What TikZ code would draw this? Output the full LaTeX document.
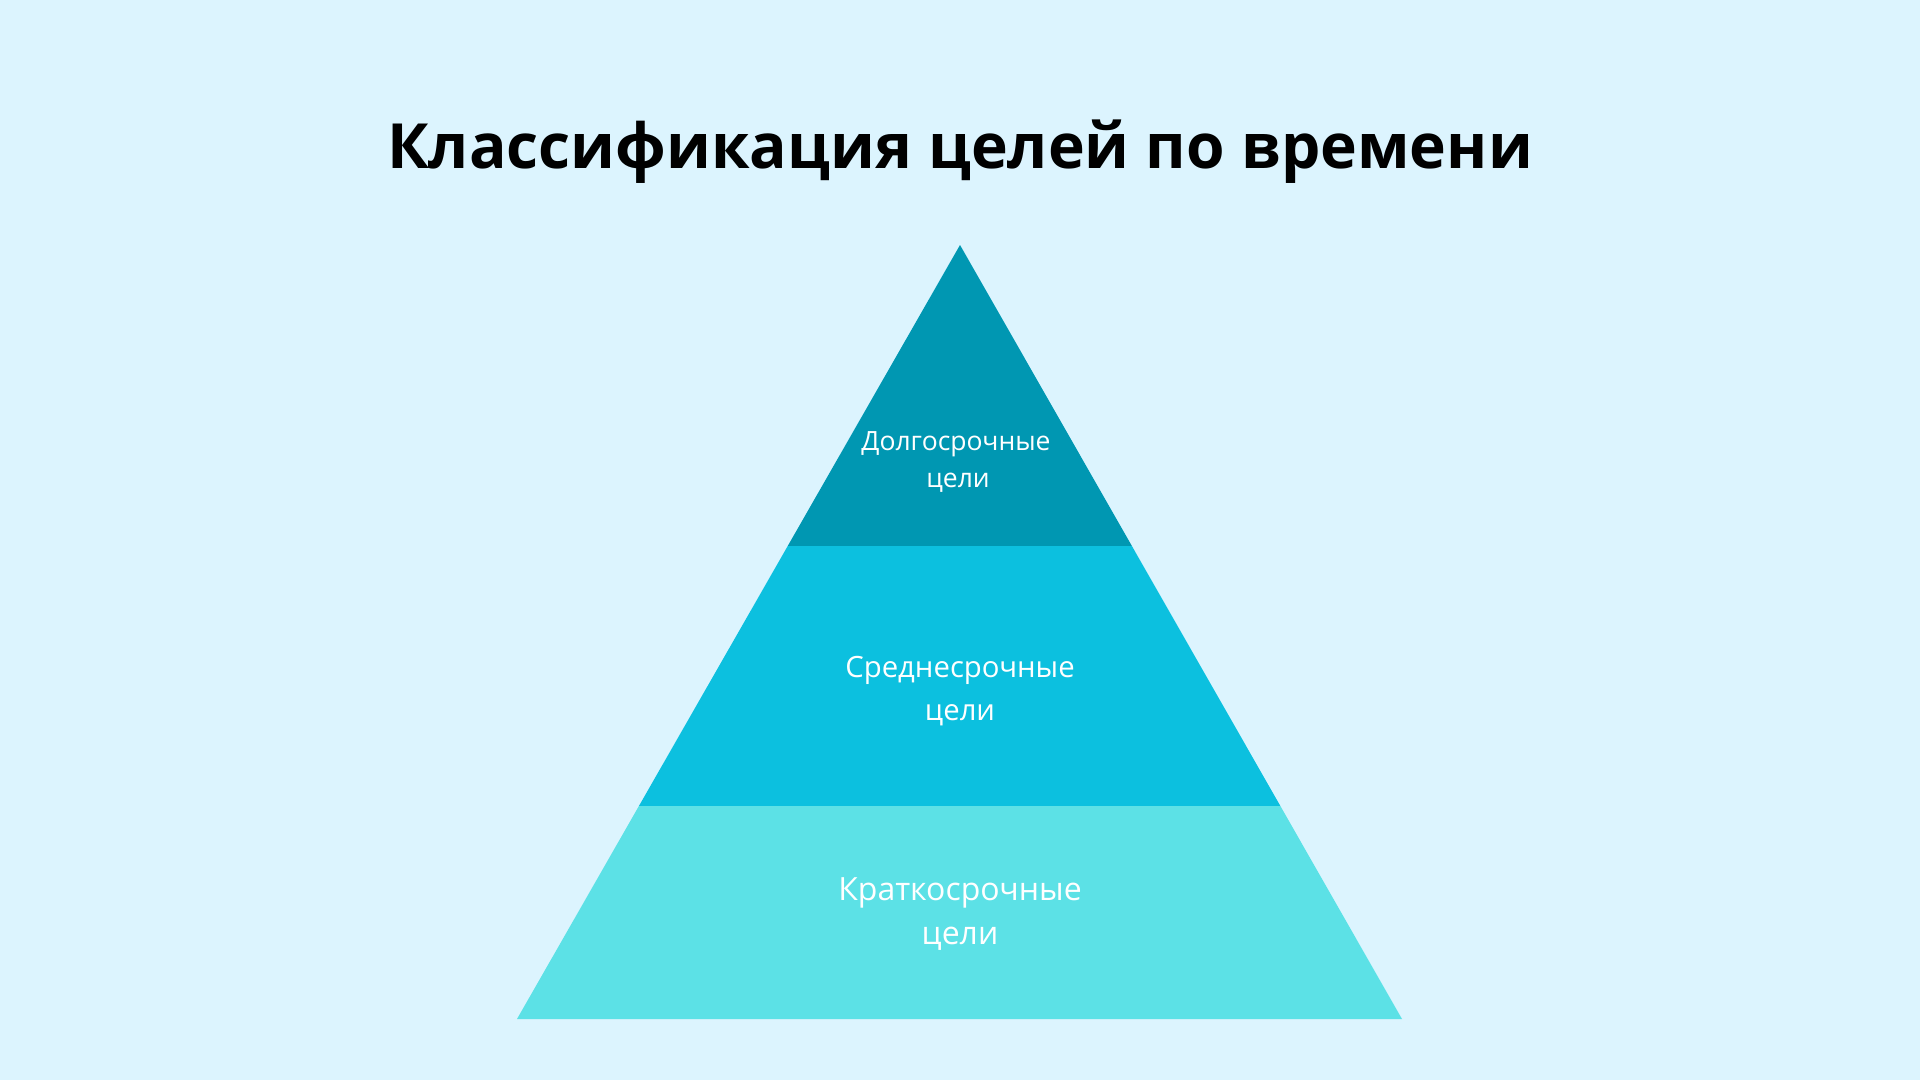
\documentclass[tikz,border=0pt]{standalone}
\usepackage{fontspec}
\setmainfont{Open Sans}
\definecolor{bg}{HTML}{DCF4FE}
\definecolor{tierA}{HTML}{0097B2}
\definecolor{tierB}{HTML}{0CC0DF}
\definecolor{tierC}{HTML}{5CE1E6}
\tikzset{
  tiertext/.style={text=white, inner sep=0pt, anchor=base},
}
\begin{document}
\begin{tikzpicture}[x=1pt,y=-1pt]
\useasboundingbox (0,0) rectangle (1920,1080);
\fill[bg] (0,0) rectangle (1920,1080);
\coordinate (apex) at (960,245);
\coordinate (bl) at (517,1019);
\coordinate (br) at (1402,1019);
\begin{scope}
  \clip (apex) -- (br) -- (bl) -- cycle;
  \fill[tierA] (500,240) rectangle (1420,546);
  \fill[tierB] (500,546) rectangle (1420,806);
  \fill[tierC] (500,806) rectangle (1420,1025);
\end{scope}
\node[anchor=base, inner sep=0pt, font=\fontsize{62.3}{70}\selectfont\bfseries] (title) at (960,168) {Классификация целей по времени};
\node[tiertext, font=\fontsize{26.5}{32}\selectfont] (t1a) at (956,450) {Долгосрочные};
\node[tiertext, font=\fontsize{26.5}{32}\selectfont] (t1b) at (958,487) {цели};
\node[tiertext, font=\fontsize{29.3}{35}\selectfont] (t2a) at (960,677) {Среднесрочные};
\node[tiertext, font=\fontsize{29.3}{35}\selectfont] (t2b) at (960,720) {цели};
\node[tiertext, font=\fontsize{32}{38}\selectfont] (t3a) at (960,900) {Краткосрочные};
\node[tiertext, font=\fontsize{32}{38}\selectfont] (t3b) at (960,944) {цели};
\end{tikzpicture}
\end{document}
